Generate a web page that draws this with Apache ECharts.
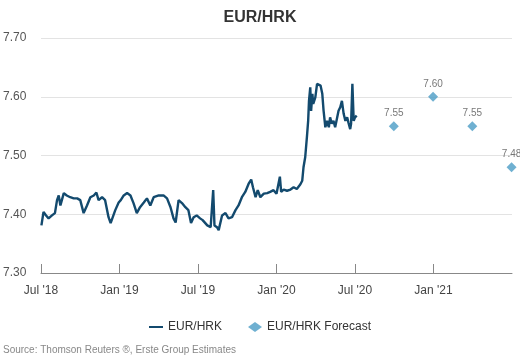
<!DOCTYPE html>
<html><head><meta charset="utf-8">
<script src="https://cdn.jsdelivr.net/npm/echarts@6/dist/echarts.min.js"></script>
<style>html,body{margin:0;padding:0;background:#fff}#c{width:520px;height:357px}</style>
</head><body><div id="c"></div>
<script>
const title = 'EUR/HRK';
const tickLabels = ["Jul '18", "Jan '19", "Jul '19", "Jan '20", "Jul '20", "Jan '21"];
const tickMonths = [0, 6, 12, 18, 24, 30];
const histDates = ['2018-07-02','2018-07-07','2018-07-13','2018-07-19','2018-07-27','2018-08-03','2018-08-08','2018-08-12','2018-08-16','2018-08-24','2018-08-31','2018-09-08','2018-09-16','2018-09-24','2018-10-01','2018-10-09','2018-10-17','2018-10-25','2018-11-02','2018-11-08','2018-11-13','2018-11-21','2018-11-28','2018-12-06','2018-12-11','2018-12-22','2018-12-30','2019-01-04','2019-01-11','2019-01-19','2019-01-27','2019-02-03','2019-02-10','2019-02-17','2019-02-25','2019-03-04','2019-03-12','2019-03-20','2019-04-01','2019-04-12','2019-04-20','2019-04-28','2019-05-05','2019-05-10','2019-05-17','2019-05-25','2019-06-02','2019-06-09','2019-06-15','2019-06-21','2019-06-28','2019-07-06','2019-07-12','2019-07-15','2019-07-23','2019-07-31','2019-08-06','2019-08-09','2019-08-15','2019-08-19','2019-08-27','2019-09-04','2019-09-11','2019-09-19','2019-09-27','2019-10-04','2019-10-12','2019-10-20','2019-10-28','2019-11-03','2019-11-07','2019-11-13','2019-11-18','2019-11-24','2019-12-02','2019-12-10','2019-12-17','2019-12-25','2020-01-01','2020-01-09','2020-01-12','2020-01-18','2020-01-26','2020-02-03','2020-02-10','2020-02-17','2020-02-25','2020-02-29','2020-03-03','2020-03-07','2020-03-11','2020-03-14','2020-03-16','2020-03-19','2020-03-21','2020-03-24','2020-03-26','2020-03-31','2020-04-04','2020-04-08','2020-04-12','2020-04-16','2020-04-19','2020-04-23','2020-04-27','2020-05-01','2020-05-04','2020-05-08','2020-05-12','2020-05-16','2020-05-20','2020-05-24','2020-05-28','2020-06-01','2020-06-05','2020-06-09','2020-06-13','2020-06-16','2020-06-20','2020-06-22','2020-06-25','2020-06-28','2020-07-01','2020-07-05'];
const histValues = [7.381,7.404,7.398,7.393,7.398,7.402,7.424,7.432,7.415,7.436,7.432,7.429,7.427,7.427,7.424,7.402,7.415,7.429,7.432,7.437,7.424,7.429,7.424,7.395,7.385,7.407,7.420,7.424,7.432,7.436,7.432,7.419,7.402,7.412,7.420,7.427,7.415,7.429,7.432,7.432,7.427,7.412,7.393,7.386,7.424,7.419,7.412,7.407,7.385,7.395,7.398,7.393,7.390,7.393,7.381,7.378,7.441,7.381,7.378,7.373,7.398,7.402,7.393,7.395,7.407,7.415,7.429,7.438,7.452,7.459,7.446,7.429,7.441,7.429,7.435,7.436,7.438,7.441,7.435,7.464,7.438,7.442,7.440,7.442,7.446,7.443,7.451,7.457,7.480,7.497,7.531,7.559,7.593,7.616,7.576,7.605,7.588,7.599,7.622,7.624,7.619,7.605,7.576,7.548,7.559,7.548,7.565,7.554,7.559,7.548,7.562,7.576,7.582,7.593,7.571,7.559,7.565,7.556,7.545,7.554,7.622,7.559,7.565,7.568];
const fcDates = ['2020-09-30','2020-12-31','2021-03-31','2021-06-30'];
const fcValues = [7.55, 7.60, 7.55, 7.48];

function monthIdx(s){
  const [y,m,d] = s.split('-').map(Number);
  const dim = new Date(y, m, 0).getDate();
  return (y-2018)*12 + (m-7) + (d-1)/dim;
}
const histData = histDates.map((d,i)=>[monthIdx(d), histValues[i]]);
const fcData = fcDates.map((d,i)=>[monthIdx(d), fcValues[i]]);

const FONT = 'Liberation Sans, Arial, sans-serif';
const chart = echarts.init(document.getElementById('c'), null, {renderer:'canvas'});
chart.setOption({
  animation:false,
  backgroundColor:'#fff',
  textStyle:{fontFamily:FONT},
  title:{text:title, left:'center', top:5, textStyle:{fontFamily:FONT, fontSize:16, fontWeight:'bold', color:'#333'}},
  grid:{left:40, right:8, top:38, bottom:84, containLabel:false},
  xAxis:{type:'value', min:0, max:36, interval:6,
    axisLine:{show:true, lineStyle:{color:'#888', width:1}},
    axisTick:{show:true, inside:true, length:9, customValues:tickMonths, lineStyle:{color:'#888'}},
    axisLabel:{color:'#444', fontSize:12, fontFamily:FONT, margin:12, customValues:tickMonths,
      formatter:(v)=> tickLabels[Math.round(v/6)] || ''},
    splitLine:{show:false}},
  yAxis:{type:'value', min:7.3, max:7.7, interval:0.1,
    axisLine:{show:false}, axisTick:{show:false},
    axisLabel:{color:'#555', fontSize:12, fontFamily:FONT, align:'left', margin:38, formatter:(v)=>v.toFixed(2)},
    splitLine:{show:true, lineStyle:{color:'#e3e3e3', width:1}}},
  legend:{bottom:19, left:'center', itemGap:26, itemWidth:14, itemHeight:10,
    textStyle:{fontFamily:FONT, fontSize:12, color:'#333'},
    data:[{name:'EUR/HRK', icon:'path://M0,4 L14,4 L14,6 L0,6 Z'},{name:'EUR/HRK Forecast', icon:'diamond'}]},
  graphic:[{type:'text', left:3, top:345, style:{text:'Source: Thomson Reuters ®, Erste Group Estimates', fill:'#888', font:'10px '+FONT}}],
  series:[
    {name:'EUR/HRK', type:'line', data:histData, showSymbol:false, symbol:'none',
      lineStyle:{color:'#134a6e', width:2.4}, itemStyle:{color:'#134a6e'}},
    {name:'EUR/HRK Forecast', type:'scatter', data:fcData, symbol:'diamond', symbolSize:10,
      itemStyle:{color:'#4b9cc5'},
      label:{show:true, position:'top', distance:3, color:'#555', fontSize:10, fontFamily:FONT, formatter:(p)=>p.value[1].toFixed(2)}}
  ]
});
</script></body></html>
